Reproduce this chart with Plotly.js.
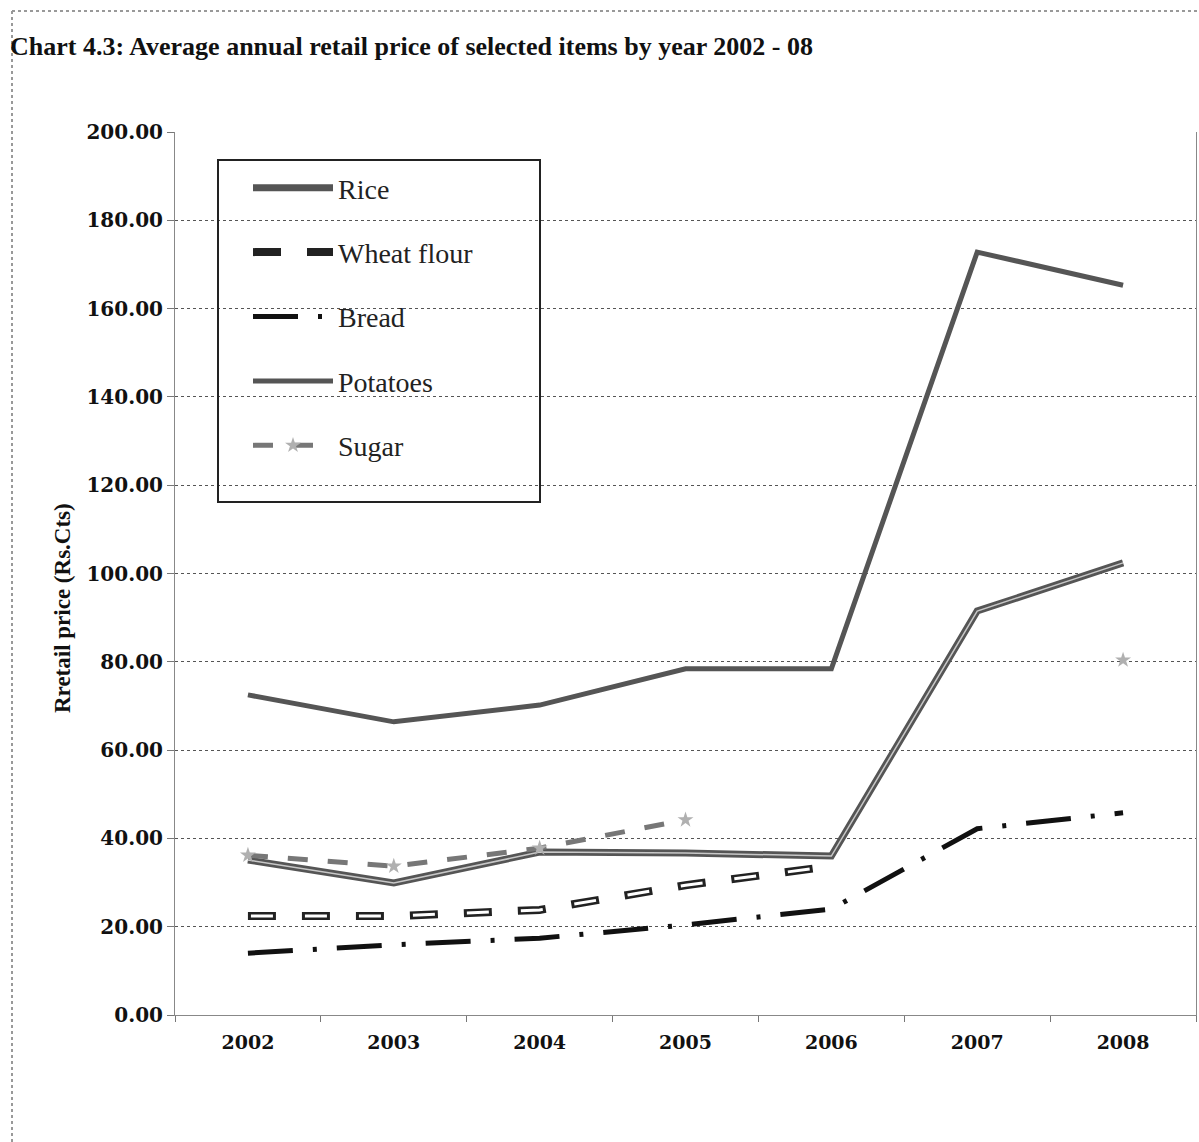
<!DOCTYPE html>
<html>
<head>
<meta charset="utf-8">
<script src="https://cdn.plot.ly/plotly-3.0.1.min.js"></script>
<style>html,body{margin:0;padding:0;background:#fff;}#chart{width:1199px;height:1142px;}</style>
</head>
<body>
<div id="chart"></div>
<script>
const years = ["2002", "2003", "2004", "2005", "2006", "2007", "2008"];
const rice = [35.1, 29.9, 36.9, 36.7, 36.0, 91.5, 102.4];
const wheatFlour = [22.4, 22.4, 23.8, 29.4, 33.7, null, null];
const bread = [14.0, 15.9, 17.4, 20.4, 24.0, 42.2, 45.8];
const potatoes = [72.5, 66.4, 70.2, 78.4, 78.4, 172.8, 165.3];
const sugar = [36.2, 33.7, 37.8, 44.2, null, null, 80.4];
const seriesNames = ["Rice", "Wheat flour", "Bread", "Potatoes", "Sugar"];
const yTicks = [0, 20, 40, 60, 80, 100, 120, 140, 160, 180, 200];

const traces = [
  {x: years, y: rice, name: seriesNames[0], legendgroup: "g1", mode: "lines",
   line: {color: "#555", width: 7}},
  {x: years, y: rice, name: seriesNames[0], legendgroup: "g1", showlegend: false, mode: "lines",
   line: {color: "#c8c8c8", width: 1.5}, hoverinfo: "skip"},
  {x: years, y: wheatFlour, name: seriesNames[1], legendgroup: "g2", mode: "lines",
   line: {color: "#222", width: 8, dash: "28px,26px"}},
  {x: years, y: wheatFlour, name: seriesNames[1], legendgroup: "g2", showlegend: false, mode: "lines",
   line: {color: "#fff", width: 3, dash: "0px,3px,22px,29px"}, hoverinfo: "skip"},
  {x: years, y: bread, name: seriesNames[2], legendgroup: "g3", mode: "lines",
   line: {color: "#111", width: 5, dash: "45px,20px,4px,20px"}},
  {x: years, y: potatoes, name: seriesNames[3], legendgroup: "g4", mode: "lines",
   line: {color: "#555", width: 5}},
  {x: years, y: sugar, name: seriesNames[4], legendgroup: "g5", mode: "lines+markers",
   line: {color: "#777", width: 5, dash: "20px,20px"},
   marker: {symbol: "star", size: 12, color: "#b0b0b0", line: {width: 0}}}
];

const px = (p) => (p - 175) / 1021;
const py = (p) => (1015 - p) / 883;

const layout = {
  width: 1199, height: 1142, autosize: false,
  margin: {l: 175, r: 3, t: 132, b: 127},
  paper_bgcolor: "#fff", plot_bgcolor: "#fff",
  showlegend: true,
  legend: {
    x: px(248), y: py(163), xanchor: "left", yanchor: "top",
    bgcolor: "rgba(0,0,0,0)", borderwidth: 0,
    font: {family: "Liberation Serif, Times New Roman, serif", size: 28, color: "#222"},
    traceorder: "grouped", tracegroupgap: 25, itemwidth: 80
  },
  xaxis: {
    type: "category", range: [-0.5, 6.5],
    tickson: "boundaries", ticks: "outside", ticklen: 6, tickcolor: "#777",
    ticklabelstandoff: 10,
    showgrid: false, showline: true, linecolor: "#888", linewidth: 1,
    tickfont: {family: "DejaVu Serif, serif", size: 19, color: "#111", weight: "bold"},
    fixedrange: true
  },
  yaxis: {
    range: [0, 200], tickvals: yTicks, tickformat: ".2f",
    ticks: "outside", ticklen: 7, tickcolor: "#777",
    showgrid: true, gridcolor: "#555", gridwidth: 1, griddash: "dot",
    zeroline: false, showline: true, mirror: true, linecolor: "#888", linewidth: 1,
    tickfont: {family: "DejaVu Serif, serif", size: 20, color: "#111", weight: "bold"},
    fixedrange: true
  },
  annotations: [
    {text: "<b>Chart 4.3: Average annual retail price of selected items by year 2002 - 08</b>",
     xref: "paper", yref: "paper", x: px(8), y: py(47), xanchor: "left", yanchor: "middle",
     showarrow: false, font: {family: "Liberation Serif, Times New Roman, serif", size: 26, color: "#111"}},
    {text: "<b>Rretail price (Rs.Cts)</b>",
     xref: "paper", yref: "paper", x: px(62), y: py(608), xanchor: "center", yanchor: "middle",
     textangle: -90, showarrow: false,
     font: {family: "Liberation Serif, Times New Roman, serif", size: 23, color: "#111"}}
  ],
  shapes: [
    {type: "rect", xref: "paper", yref: "paper", x0: px(218), x1: px(540), y0: py(502), y1: py(160),
     line: {color: "#222", width: 2}, fillcolor: "rgba(0,0,0,0)"},
    {type: "line", xref: "paper", yref: "paper", x0: px(12), x1: px(12), y0: py(11), y1: py(1142),
     line: {color: "#999", width: 2, dash: "dot"}},
    {type: "line", xref: "paper", yref: "paper", x0: px(12), x1: px(1199), y0: py(11), y1: py(11),
     line: {color: "#999", width: 2, dash: "dot"}}
  ]
};

Plotly.newPlot("chart", traces, layout, {displayModeBar: false, staticPlot: true});
</script>
</body>
</html>
